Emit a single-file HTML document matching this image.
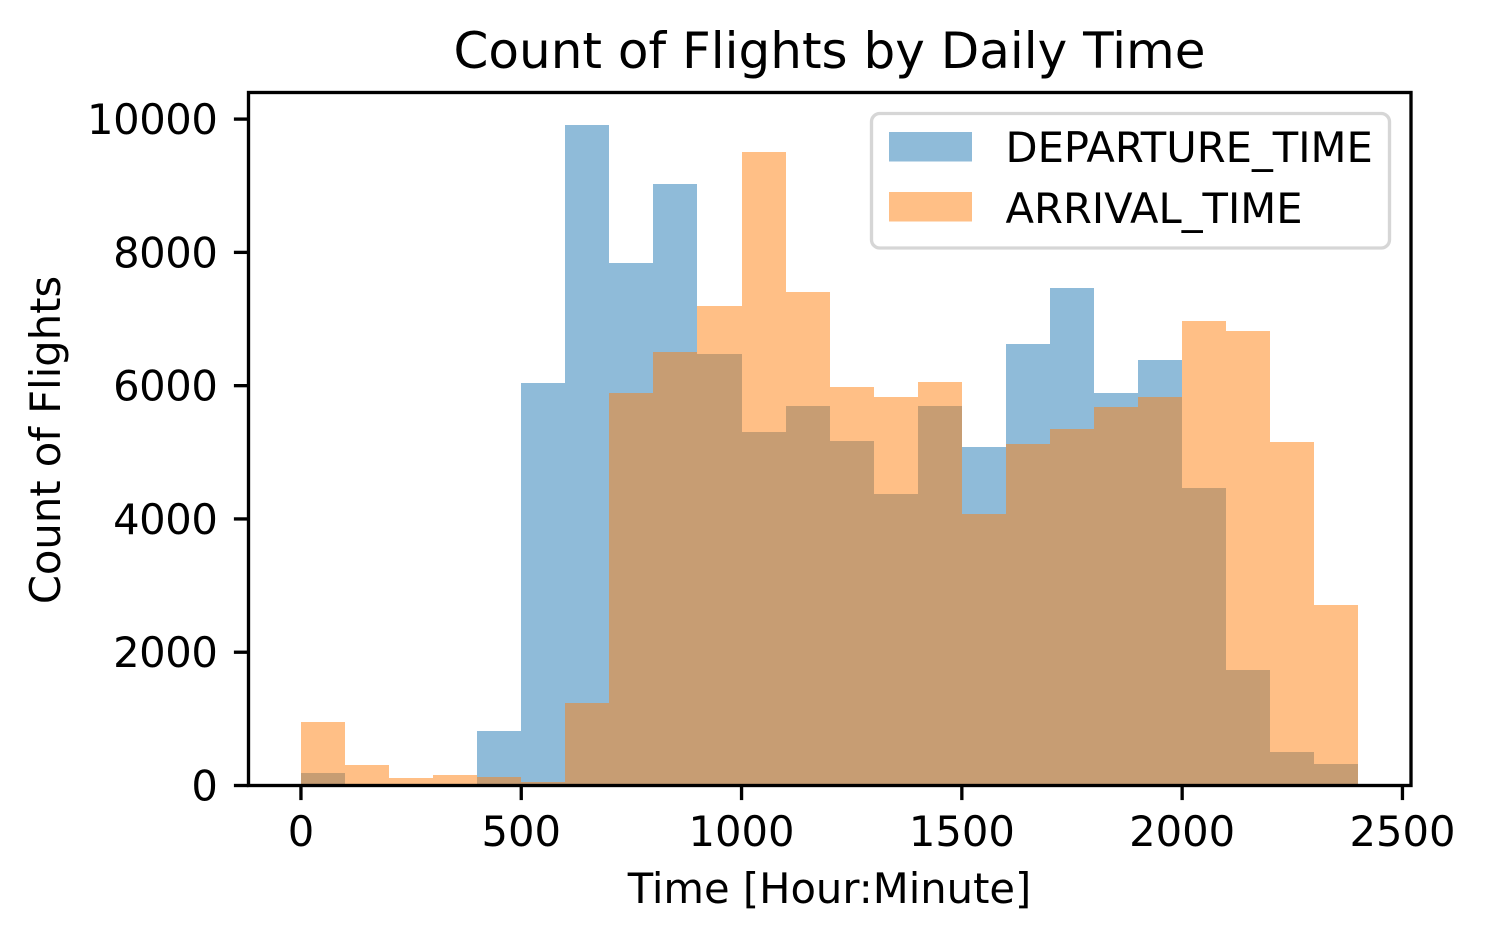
<!DOCTYPE html>
<html>
<head>
<meta charset="utf-8">
<title>Count of Flights by Daily Time</title>
<style>
html,body{margin:0;padding:0;background:#fff;width:1485px;height:941px;overflow:hidden}
svg{display:block}
text{font-family:"DejaVu Sans","Liberation Sans",sans-serif;fill:#000}
</style>
</head>
<body>
<svg id="chart" xmlns="http://www.w3.org/2000/svg" width="1485" height="941" viewBox="0 0 1485 941"></svg>
<script>
const binEdges = [0,100,200,300,400,500,600,700,800,900,1000,1100,1200,1300,1400,1500,1600,1700,1800,1900,2000,2100,2200,2300,2400];
const departureCounts = [188,30,5,5,818,6035,9910,7840,9020,6470,5300,5690,5165,4370,5690,5075,6620,7470,5885,6380,4460,1730,500,320];
const arrivalCounts = [953,308,113,158,128,53,1238,5885,6510,7200,9500,7410,5975,5825,6050,4080,5120,5345,5675,5825,6965,6815,5150,2708];
const xTickValues = [0,500,1000,1500,2000,2500];
const yTickValues = [0,2000,4000,6000,8000,10000];
const seriesNames = ["DEPARTURE_TIME","ARRIVAL_TIME"];
const titleText = "Count of Flights by Daily Time";
const xLabelText = "Time [Hour:Minute]";
const yLabelText = "Count of Flights";

const NS = "http://www.w3.org/2000/svg";
const svg = document.getElementById("chart");
const plot = {left:248.5, right:1411, top:92.5, bottom:785.5};
function xScale(v){ return 300.95 + v * 0.4406; }
function yScale(v){ return 785.5 - v * 0.06664; }
function make(tag, attrs, parent){
  const e = document.createElementNS(NS, tag);
  for (const k in attrs) e.setAttribute(k, attrs[k]);
  (parent || svg).appendChild(e);
  return e;
}
const colors = ["#1f77b4","#ff7f0e"];

const barsDep = make("g", {}, svg);


departureCounts.forEach(function(c, i){
  const x0 = Math.round(xScale(binEdges[i])), x1 = Math.round(xScale(binEdges[i+1])), y = Math.round(yScale(c));
  const r = make("rect", {x:x0, y:y, width:x1-x0, height:Math.max(0, 786-y), fill:colors[0], "fill-opacity":0.5, "shape-rendering":"crispEdges"}, barsDep);
  
  
});

const barsArr = make("g", {}, svg);


arrivalCounts.forEach(function(c, i){
  const x0 = Math.round(xScale(binEdges[i])), x1 = Math.round(xScale(binEdges[i+1])), y = Math.round(yScale(c));
  const r = make("rect", {x:x0, y:y, width:x1-x0, height:Math.max(0, 786-y), fill:colors[1], "fill-opacity":0.5, "shape-rendering":"crispEdges"}, barsArr);
  
  
});

const frame = make("rect", {x:plot.left, y:plot.top, width:plot.right-plot.left, height:plot.bottom-plot.top, fill:"none", stroke:"#000", "stroke-width":3.33});



xTickValues.forEach(function(v){
  const x = xScale(v);
  const t = make("line", {x1:x, x2:x, y1:plot.bottom, y2:plot.bottom+14.6, stroke:"#000", "stroke-width":3.33});
  
  
  const l = make("text", {x:x, y:846, "text-anchor":"middle", "font-size":41.67});
  l.textContent = v;
  
  
});
yTickValues.forEach(function(v){
  const y = yScale(v);
  const t = make("line", {x1:plot.left, x2:plot.left-14.6, y1:y, y2:y, stroke:"#000", "stroke-width":3.33});
  
  
  const l = make("text", {x:217.5, y:y+15, "text-anchor":"end", "font-size":41.67, "letter-spacing":"-0.4"});
  l.textContent = v;
  
  
});

const title = make("text", {x:829.5, y:68, "text-anchor":"middle", "font-size":50});
title.textContent = titleText;



const xl = make("text", {x:829.5, y:903, "text-anchor":"middle", "font-size":41.67});
xl.textContent = xLabelText;



const yl = make("text", {"text-anchor":"middle", "font-size":41.67, transform:"translate(60,440) rotate(-90)"});
yl.textContent = yLabelText;



const legend = make("g", {}, svg);


const lbox = make("rect", {x:871.5, y:113.5, width:518, height:134.5, rx:8.3, ry:8.3, fill:"#fff", "fill-opacity":0.8, stroke:"#ccc", "stroke-opacity":0.8, "stroke-width":3.33}, legend);


seriesNames.forEach(function(n, i){
  const top = 132 + i * 60;
  const p = make("rect", {x:889, y:top, width:83, height:29.5, fill:colors[i], "fill-opacity":0.5}, legend);
  
  
  const t = make("text", {x:1005.5, y:top+30+i*1, "font-size":41.67}, legend);
  t.textContent = n;
  
  
});
</script>
</body>
</html>
